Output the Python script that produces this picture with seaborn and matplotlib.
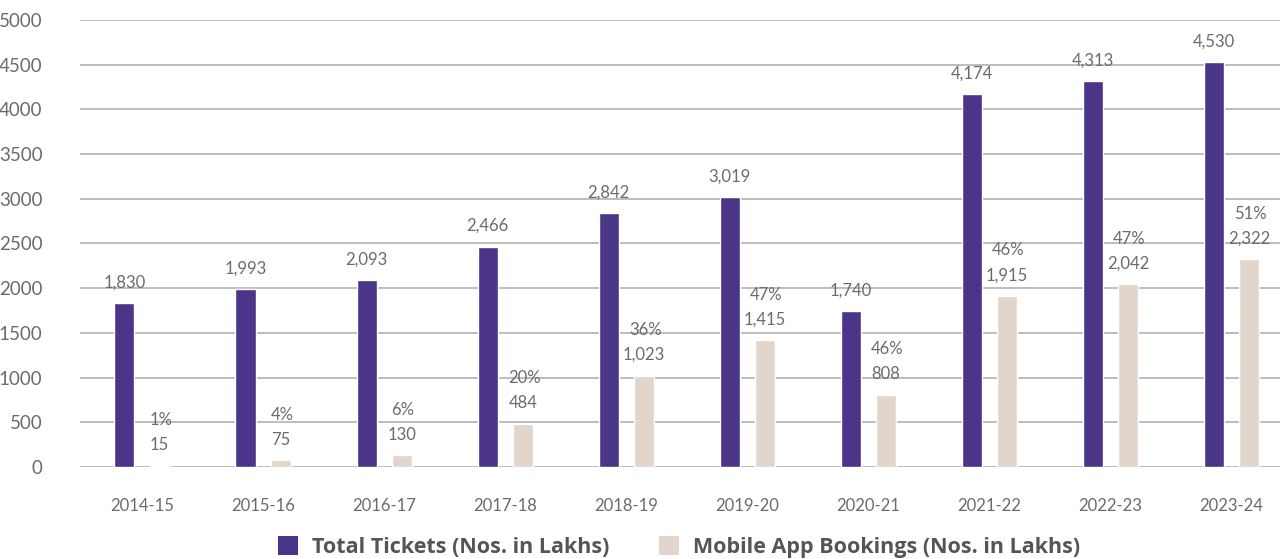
import matplotlib
matplotlib.use("Agg")
import matplotlib.pyplot as plt
import seaborn as sns
import pandas as pd
from matplotlib.patches import Patch

years = ["2014-15", "2015-16", "2016-17", "2017-18", "2018-19",
         "2019-20", "2020-21", "2021-22", "2022-23", "2023-24"]
total_tickets = [1830, 1993, 2093, 2466, 2842, 3019, 1740, 4174, 4313, 4530]
mobile_bookings = [15, 75, 130, 484, 1023, 1415, 808, 1915, 2042, 2322]
mobile_share = ["1%", "4%", "6%", "20%", "36%", "47%", "46%", "46%", "47%", "51%"]

series_names = ["Total Tickets (Nos. in Lakhs)", "Mobile App Bookings (Nos. in Lakhs)"]
colors = ["#4B3588", "#E2D5CB"]
text_gray = "#6b6b6b"

df = pd.DataFrame({
    "year": years * 2,
    "value": total_tickets + mobile_bookings,
    "series": [series_names[0]] * len(years) + [series_names[1]] * len(years),
})

sns.set_theme(style="white")
plt.rcParams["font.family"] = ["Lato", "DejaVu Sans"]

fig = plt.figure(figsize=(12.82, 5.59), dpi=100)
ax = fig.add_axes([80 / 1282, 92 / 559, 1200 / 1282, 447 / 559])

sns.barplot(data=df, x="year", y="value", hue="series", order=years,
            hue_order=series_names, palette=colors, width=0.58, gap=0.43,
            saturation=1, legend=False, ax=ax)

ax.set_ylim(0, 5000)
ax.set_xlim(-0.512, 9.40)
ax.set_yticks(range(0, 5001, 500))
ax.yaxis.grid(True, color="#bdbdbd", linewidth=1.4)
ax.set_axisbelow(True)
for s in ax.spines.values():
    s.set_visible(False)
ax.set_xlabel("")
ax.set_ylabel("")
ax.tick_params(axis="y", length=0, pad=27, labelsize=13.5, labelcolor=text_gray)
ax.tick_params(axis="x", length=0, pad=22, labelsize=12, labelcolor=text_gray)

# value labels above the total-ticket bars
for bar, v in zip(ax.containers[0], total_tickets):
    ax.annotate(f"{v:,}", (bar.get_x() + bar.get_width() / 2, bar.get_height()),
                xytext=(0, 9), textcoords="offset points", ha="center", va="bottom",
                fontsize=12, color=text_gray)

# value and share labels above the mobile-booking bars
for bar, v, pct in zip(ax.containers[1], mobile_bookings, mobile_share):
    x = bar.get_x() + bar.get_width() / 2
    ax.annotate(f"{v:,}", (x, bar.get_height()),
                xytext=(0, 9), textcoords="offset points", ha="center", va="bottom",
                fontsize=12, color=text_gray)
    ax.annotate(pct, (x, bar.get_height()),
                xytext=(1, 27), textcoords="offset points", ha="center", va="bottom",
                fontsize=12, color=text_gray)

handles = [Patch(facecolor=c, edgecolor="none") for c in colors]
fig.legend(handles, series_names, loc="center", bbox_to_anchor=(679 / 1282, 12 / 559),
           ncol=2, frameon=False, handlelength=0.95, handleheight=0.95,
           columnspacing=2.3, handletextpad=0.65,
           prop={"family": ["Open Sans", "DejaVu Sans"], "size": 15.5, "weight": "bold"},
           labelcolor="#555555")

fig.savefig("out.png", dpi=100)
